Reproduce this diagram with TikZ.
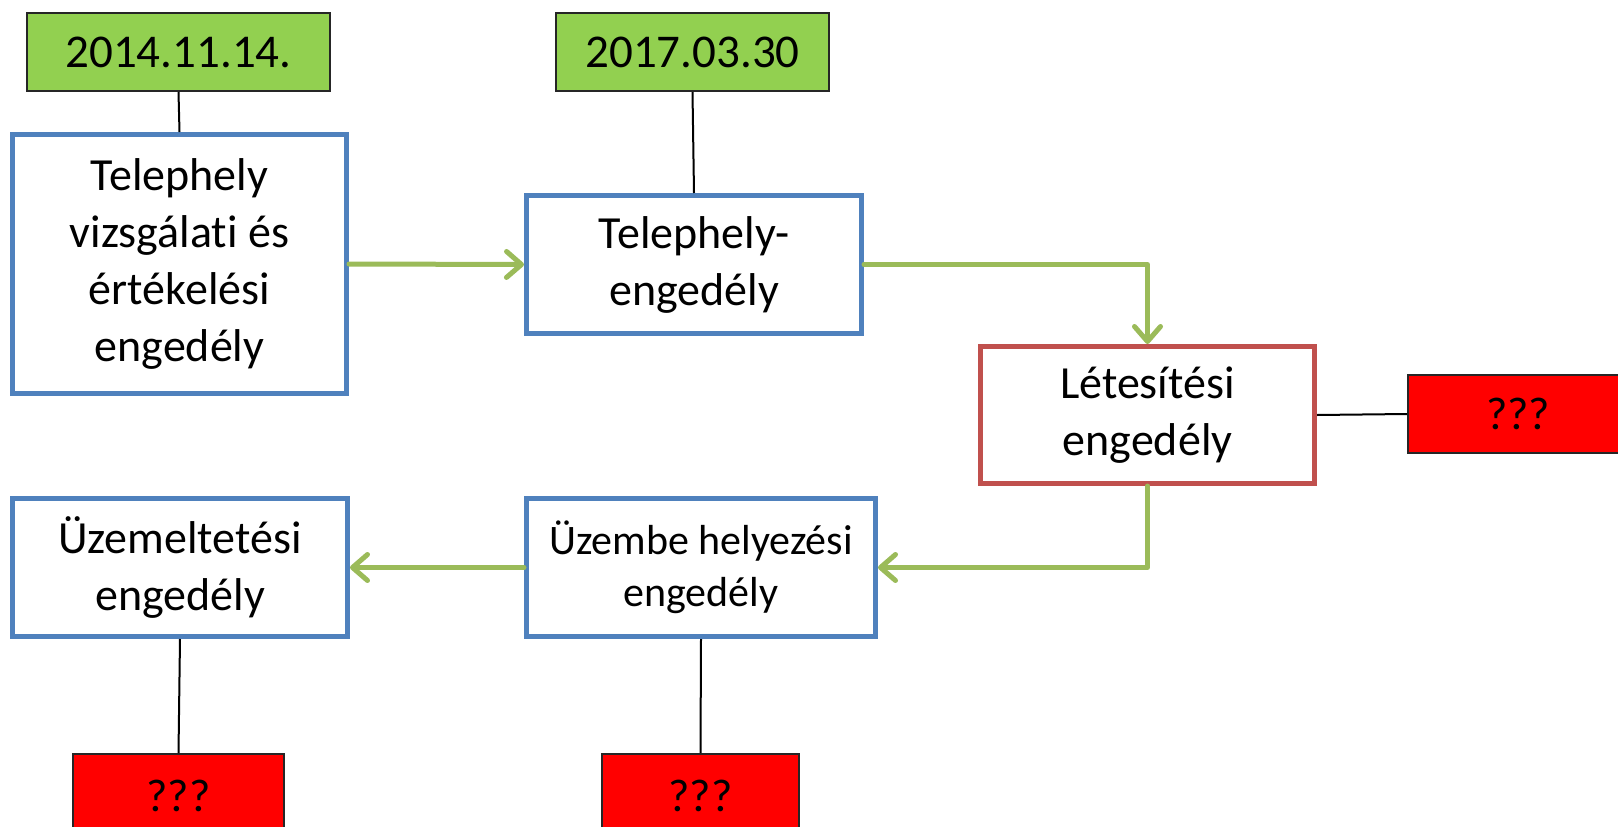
\documentclass[tikz,border=0pt]{standalone}
\usepackage{fontspec}
\setmainfont{Carlito}[Ligatures={NoCommon,NoContextual},Contextuals=NoAlternate]
\usetikzlibrary{arrows.meta}
\definecolor{bblue}{HTML}{4F81BD}
\definecolor{bred}{HTML}{C0504D}
\definecolor{agreen}{HTML}{9BBB59}
\definecolor{fgreen}{HTML}{92D050}
\definecolor{fred}{HTML}{FF0000}
\tikzset{
  base/.style={anchor=north west, inner sep=0pt, align=center, font=\fontsize{46}{57}\selectfont},
  bluebox/.style={base, draw=bblue, line width=5pt, fill=white},
  redbox/.style={base, draw=bred, line width=5pt, fill=white},
  datebox/.style={base, draw=black!85, line width=2pt, fill=fgreen, font=\fontsize{47}{57}\selectfont},
  qbox/.style={base, draw=black!85, line width=2pt, fill=fred},
  flow/.style={draw=agreen, line width=5pt, line cap=round, line join=round,
    -{Straight Barb[length=15pt,width=26pt,line cap=round,line join=round]}},
  link/.style={draw=black, line width=2pt}
}
\begin{document}
\begin{tikzpicture}[x=1pt,y=-1pt]
\useasboundingbox (0,0) rectangle (1618,827);
\fill[white] (0,0) rectangle (1618,827);

\node[datebox, minimum width=303pt, minimum height=78pt] (d1) at (26,12) {2014.11.14.};
\node[datebox, minimum width=273pt, minimum height=78pt] (d2) at (555,12) {2017.03.30};

\node[bluebox, minimum width=334pt, minimum height=259pt] (b1) at (10,132)
  {Telephely\\vizsgálati és\\értékelési\\engedély};
\node[bluebox, minimum width=335pt, minimum height=138pt] (b2) at (524,193)
  {Telephely-\\engedély};
\node[redbox, minimum width=334pt, minimum height=137pt] (b3) at (978,344)
  {Létesítési\\engedély};
\node[qbox, minimum width=220pt, minimum height=78pt] (q1) at (1407,374) {???};
\node[bluebox, minimum width=335pt, minimum height=138pt] (b4) at (10,496)
  {Üzemeltetési\\engedély};
\node[bluebox, minimum width=349pt, minimum height=138pt, font=\fontsize{42}{52}\selectfont] (b5) at (524,496)
  {Üzembe helyezési\\engedély};
\node[qbox, minimum width=211pt, minimum height=84pt] (q2) at (72,753) {???};
\node[qbox, minimum width=197pt, minimum height=84pt] (q3) at (601,753) {???};

\draw[link] (d1.south) -- (b1.north);
\draw[link] (d2.south) -- (b2.north);
\draw[link] (b3.east) -- (q1.west);
\draw[link] (b4.south) -- (q2.north);
\draw[link] (b5.south) -- (q3.north);

\draw[flow] (b1.east) -- (b2.west);
\draw[flow] (b2.east) -| (b3.north);
\draw[flow] (b3.south) |- (b5.east);
\draw[flow] (b5.west) -- (b4.east);
\end{tikzpicture}
\end{document}
